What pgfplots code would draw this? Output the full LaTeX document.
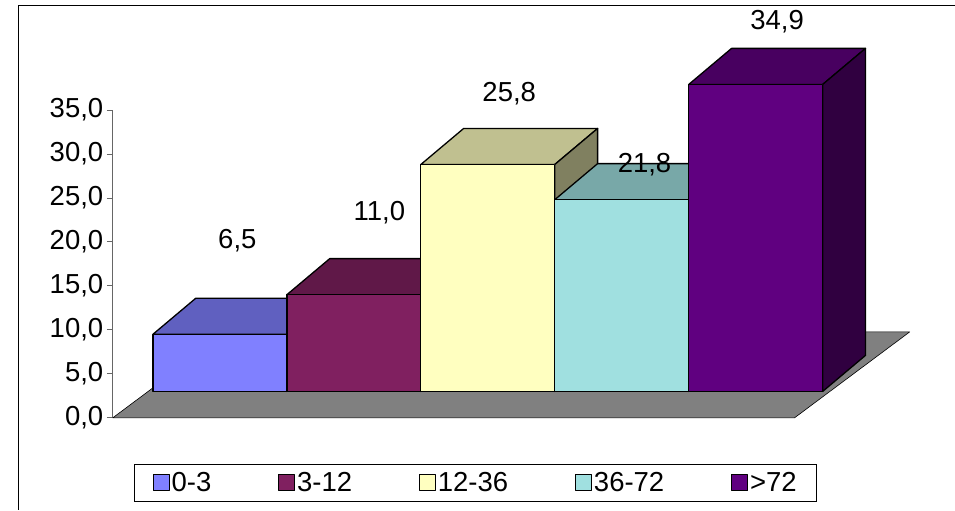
\documentclass[border=0pt]{standalone}
\usepackage{pgfplots}
\pgfplotsset{compat=1.18}
\usepackage{fontspec}
\setmainfont{Liberation Sans}
\definecolor{fA}{HTML}{8080FF}\definecolor{tA}{HTML}{6060C0}
\definecolor{fB}{HTML}{802060}\definecolor{tB}{HTML}{601848}
\definecolor{fC}{HTML}{FFFFC0}\definecolor{tC}{HTML}{C0C090}\definecolor{sC}{HTML}{808060}
\definecolor{fD}{HTML}{A0E0E0}\definecolor{tD}{HTML}{78A8A8}
\definecolor{fE}{HTML}{600080}\definecolor{tE}{HTML}{480060}\definecolor{sE}{HTML}{300040}
\definecolor{floor}{HTML}{808080}
\newcommand\fs{\fontsize{27.5}{32}\selectfont}
\begin{document}
\begin{tikzpicture}
\begin{axis}[
  x=134pt, y=8.8pt, xmin=-0.3, xmax=5.9, ymin=0, ymax=35,
  clip=false, axis lines*=left, axis line style={draw=gray!80!black, line width=0.8pt},
  x axis line style={draw=none}, xtick=\empty,
  ytick={0,5,...,35}, ytick pos=left, tick align=outside,
  major tick length=6pt, tick style={gray!80!black, line width=0.8pt},
  yticklabel style={font=\fs, /pgf/number format/.cd, fixed, fixed zerofill, precision=1, use comma},
  /pgf/number format/assume math mode=true,
  legend style={at={(axis cs:2.41,-7.39)}, anchor=center, legend columns=5, draw=black, line width=0.8pt,
    font=\fs, inner xsep=18pt, inner ysep=6pt,
    /tikz/every even column/.append style={column sep=65pt}},
  legend image code/.code={\draw[#1, line width=0.8pt] (0pt,-8pt) rectangle (16pt,8pt);},
  every axis plot/.append style={draw=black, line width=1.3pt, line join=round},
]
\path (axis cs:-1.142,-10.45) rectangle (axis cs:5.985,47.5);
\draw[black, line width=0.8pt] (axis cs:-1.007,-10.45) -- (axis cs:-1.007,46.93) -- (axis cs:5.985,46.93);
\addplot[fill=floor, draw=black, line width=0.6pt, forget plot] coordinates {(-0.3,0)(4.79,0)(5.65,9.77)(0.56,9.77)} -- cycle;
\addplot[fill=tA, forget plot] coordinates {(0,9.5)(1,9.5)(1.32,13.6)(0.32,13.6)} -- cycle;
\addplot[fill=tA, forget plot] coordinates {(1,3)(1,9.5)(1.32,13.6)(1.32,7.1)} -- cycle;
\addplot[fill=fA] coordinates {(0,3)(1,3)(1,9.5)(0,9.5)} -- cycle;
\addlegendentry{0-3}
\addplot[fill=tB, forget plot] coordinates {(1,14.0)(2,14.0)(2.32,18.1)(1.32,18.1)} -- cycle;
\addplot[fill=tB, forget plot] coordinates {(2,3)(2,14.0)(2.32,18.1)(2.32,7.1)} -- cycle;
\addplot[fill=fB] coordinates {(1,3)(2,3)(2,14.0)(1,14.0)} -- cycle;
\addlegendentry{3-12}
\addplot[fill=tC, forget plot] coordinates {(2,28.8)(3,28.8)(3.32,32.9)(2.32,32.9)} -- cycle;
\addplot[fill=sC, forget plot] coordinates {(3,3)(3,28.8)(3.32,32.9)(3.32,7.1)} -- cycle;
\addplot[fill=fC] coordinates {(2,3)(3,3)(3,28.8)(2,28.8)} -- cycle;
\addlegendentry{12-36}
\addplot[fill=tD, forget plot] coordinates {(3,24.8)(4,24.8)(4.32,28.9)(3.32,28.9)} -- cycle;
\addplot[fill=tD, forget plot] coordinates {(4,3)(4,24.8)(4.32,28.9)(4.32,7.1)} -- cycle;
\addplot[fill=fD] coordinates {(3,3)(4,3)(4,24.8)(3,24.8)} -- cycle;
\addlegendentry{36-72}
\addplot[fill=tE, forget plot] coordinates {(4,37.9)(5,37.9)(5.32,42.0)(4.32,42.0)} -- cycle;
\addplot[fill=sE, forget plot] coordinates {(5,3)(5,37.9)(5.32,42.0)(5.32,7.1)} -- cycle;
\addplot[fill=fE] coordinates {(4,3)(5,3)(5,37.9)(4,37.9)} -- cycle;
\addlegendentry{>72}
\begin{scope}[font=\fs]
\node at (axis cs:0.63,20.1) {6,5};
\node at (axis cs:1.69,23.3) {11,0};
\node at (axis cs:2.66,36.9) {25,8};
\node at (axis cs:3.67,28.75) {21,8};
\node at (axis cs:4.66,45.0) {34,9};
\end{scope}
\end{axis}
\end{tikzpicture}
\end{document}
